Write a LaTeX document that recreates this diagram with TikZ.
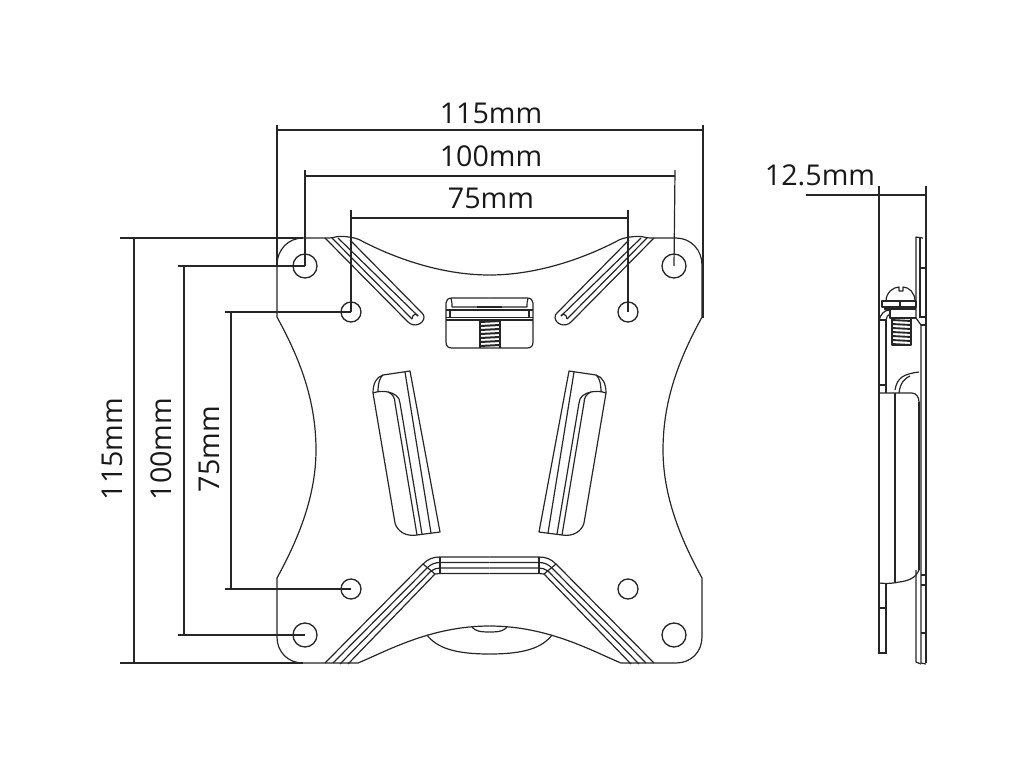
\documentclass[tikz,border=0pt]{standalone}
\usepackage{fontspec}
\setmainfont{Open Sans}
\tikzset{
  part/.style={draw=black!85, line width=0.9pt, line join=round},
  dimline/.style={draw=black!85, line width=0.9pt},
  dimtext/.style={font=\fontsize{21.5}{24}\selectfont, text=black!90, inner sep=0pt},
  holebig/.style={circle, draw=black!85, line width=1pt, minimum size=24*0.75pt, inner sep=0pt},
  holesmall/.style={circle, draw=black!85, line width=1pt, minimum size=20*0.75pt, inner sep=0pt}
}
\begin{document}
\begin{tikzpicture}[x=0.75pt,y=-0.75pt]
  \useasboundingbox (0,0) rectangle (1024,768);

  % Left and right halves of the plate
  \foreach \s/\tx in {1/0,-1/979} {
    \begin{scope}[cm={\s,0,0,1,(\tx,0)}]
      % Outline
      \draw[part] (489.5,275) .. controls (440,275) and (392,257) .. (360,240)
        .. controls (355,237.5) and (345,236) .. (338,236.5) .. controls (335,237) and (332,238) .. (328,238) -- (303,238)
        .. controls (288,238) and (277,250) .. (277,265) -- (277,317)
        .. controls (296,352) and (316,395) .. (316,450)
        .. controls (316,500) and (295,545) .. (277,578) -- (277,637)
        .. controls (277,652) and (288,663) .. (303,663) -- (358,663)
        .. controls (385,652) and (430,626) .. (489.5,626);
      % Top rib
      \draw[part] (325,238) -- (408,322);
      \draw[part] (332,238) -- (412,319);
      \draw[part] (338,238) -- (418,316);
      \draw[part] (350,240) -- (422,313);
      \draw[part] (408,322) .. controls (414,328) and (424,324) .. (424,317) .. controls (424,315) and (423,314) .. (422,313);
      \draw[part] (412,319) .. controls (412,314) and (417,313) .. (418,316);
      % Bottom rib
      \draw[part] (325,663) -- (423,564) .. controls (428,559) and (433,557) .. (440,557) -- (489.5,557);
      \draw[part] (333,663) -- (427,568) .. controls (431,564) and (435,562.5) .. (440,562.5) -- (489.5,562.5);
      \draw[part] (340,664) -- (431,571) .. controls (434,569) and (437,568) .. (440,568) -- (489.5,568);
      \draw[part] (348,664) -- (435,574) -- (440,573.5) -- (489.5,573.5);
      \draw[part] (440,557) -- (440,574);
      \draw[part] (423,564) -- (435,574);
      % Pivot under the plate
      \draw[part] (427,635) .. controls (437,648) and (455,654) .. (489.5,654);
      \draw[part] (472,627) .. controls (475,631) and (480,632) .. (489.5,632);
      % Pad
      \draw[part] (410,371) -- (383,375) .. controls (376,377) and (373,384) .. (373,393)
        -- (395,523) .. controls (397,531) and (406,537) .. (417,535) -- (440,532) -- cycle;
      \draw[part] (405,372) -- (431,533);
      \draw[part] (373,393) .. controls (378,391) and (384,391) .. (388,392)
        .. controls (393,394) and (395,398) .. (395,403) -- (417,535);
      \draw[part] (388,392) .. controls (394,393) and (400,397) .. (400,403) -- (422,534);
      \draw[part] (383,375) .. controls (380,377) and (378,383) .. (378,392);
      % Bracket half
      \draw[part] (489.5,298) -- (452,298) .. controls (448,298) and (446,300) .. (446,303)
        -- (446,342) .. controls (446,346) and (448,348) .. (452,348) -- (489.5,348);
      \draw[part] (451,298) .. controls (452,301) and (452,304) .. (452,307) -- (477,307);
      \draw[part] (446,310) -- (489.5,310);
      \draw[part] (446,317.5) -- (489.5,317.5);
      \draw[part] (446,320) -- (489.5,320);
      \draw[part] (450,310) -- (450,317.5);
    \end{scope}
  }

  % Mounting holes
  \foreach \n/\x/\y in {tlbig/305/266,trbig/674/266,blbig/305/635,brbig/674/635} {
    \node[holebig] (\n) at (\x,\y) {};
  }
  \foreach \n/\x/\y in {tlsmall/351/312,trsmall/628/312,blsmall/351/589,brsmall/628/589} {
    \node[holesmall] (\n) at (\x,\y) {};
  }

  % Bracket screw
  \draw[part, line width=2pt] (477,307) -- (502,307);
  \foreach \y in {322,326,...,346} {
    \draw[part, line width=1.5pt] (480,\y) -- (500,\y-1);
  }
  \draw[part] (480,320) -- (480,348);
  \draw[part] (500,320) -- (500,348);

  % Width dimensions
  \coordinate (wa) at (277,125);
  \coordinate (wb) at (703,125);
  \draw[dimline] (wa) -- (277,265);
  \draw[dimline] (wb) -- (703,318);
  \draw[dimline] (277,130) -- (703,130);
  \draw[dimline] (305,170) -- (tlbig.center);
  \draw[dimline] (675,170) -- (trbig.center);
  \draw[dimline] (305,176) -- (675,176);
  \draw[dimline] (351,210) -- (tlsmall.center);
  \draw[dimline] (628,210) -- (trsmall.center);
  \draw[dimline] (351,218) -- (628,218);
  \node[dimtext] (wtop) at (491,113) {115mm};
  \node[dimtext] (wmid) at (491,156) {100mm};
  \node[dimtext] (wlow) at (491,198) {75mm};

  % Height dimensions
  \draw[dimline] (120,238) -- (303,238);
  \draw[dimline] (120,663) -- (303,663);
  \draw[dimline] (134,238) -- (134,663);
  \draw[dimline] (178,266) -- (tlbig.center);
  \draw[dimline] (178,635) -- (blbig.center);
  \draw[dimline] (184,266) -- (184,635);
  \draw[dimline] (225,312) -- (tlsmall.center);
  \draw[dimline] (225,589) -- (blsmall.center);
  \draw[dimline] (231,312) -- (231,589);
  \node[dimtext, rotate=90] (hout) at (112,449) {115mm};
  \node[dimtext, rotate=90] (hmid) at (161,449) {100mm};
  \node[dimtext, rotate=90] (hin) at (209,449) {75mm};

  % Side view
  \node[dimtext] (depth) at (820,175) {12.5mm};
  \draw[dimline] (806,195) -- (926,195);
  \draw[dimline] (879,186) -- (879,653) -- (886,653) -- (886,583);
  \draw[dimline] (926,186) -- (926,663);
  \draw[part] (879,608) -- (886,608);
  \draw[part] (916,318) -- (916,237) -- (923,238);
  \draw[part] (920,237) -- (920,318);
  \draw[part] (921,325) -- (921,663) -- (926,664);
  \draw[part] (916,570) -- (916,662) -- (921,664);
  \draw[part, line width=1.5pt] (919,402) -- (919,570);
  \foreach \y in {268,317,325,575,585,633} {
    \draw[part] (921,\y) -- (926,\y);
  }
  \draw[part] (916,318) -- (921,325);
  % Screw
  \draw[part] (886,301) .. controls (886,293) and (893,287) .. (899,287) -- (899,291) -- (903,291) -- (903,287)
    .. controls (909,287) and (915,293) .. (915,301);
  \draw[part] (882,301) rectangle (916,307);
  \draw[part] (900,301) -- (900,307);
  \draw[part, line width=2.2pt] (884,308.5) -- (916,308.5);
  \draw[part] (890,310) -- (890,318) -- (916,318);
  \foreach \y in {320,324,...,344} {
    \draw[part, line width=1.4pt] (892,\y) -- (911,\y+1);
  }
  \draw[part] (892,319) -- (892,345) -- (911,345) -- (911,319);
  % Bracket behind the plate
  \draw[part] (879,320) .. controls (881,314) and (884,310) .. (890,310);
  \draw[part] (886,320) .. controls (886,317) and (888,315) .. (890,314);
  \draw[part] (879,320) -- (886,320) -- (886,393);
  \draw[part] (879,385) -- (886,385);
  \draw[part] (879,393) -- (912,393) .. controls (916,393) and (919,397) .. (919,402);
  \draw[part] (895,393) -- (895,583);
  \draw[part] (895,390) .. controls (897,378) and (903,374) .. (919,372);
  \draw[part] (899,393) .. controls (900,383) and (905,378) .. (910,376);
  \draw[part] (879,583) .. controls (888,584) and (895,583) .. (899,582)
    .. controls (908,581) and (916,578) .. (919,570);
\end{tikzpicture}
\end{document}
